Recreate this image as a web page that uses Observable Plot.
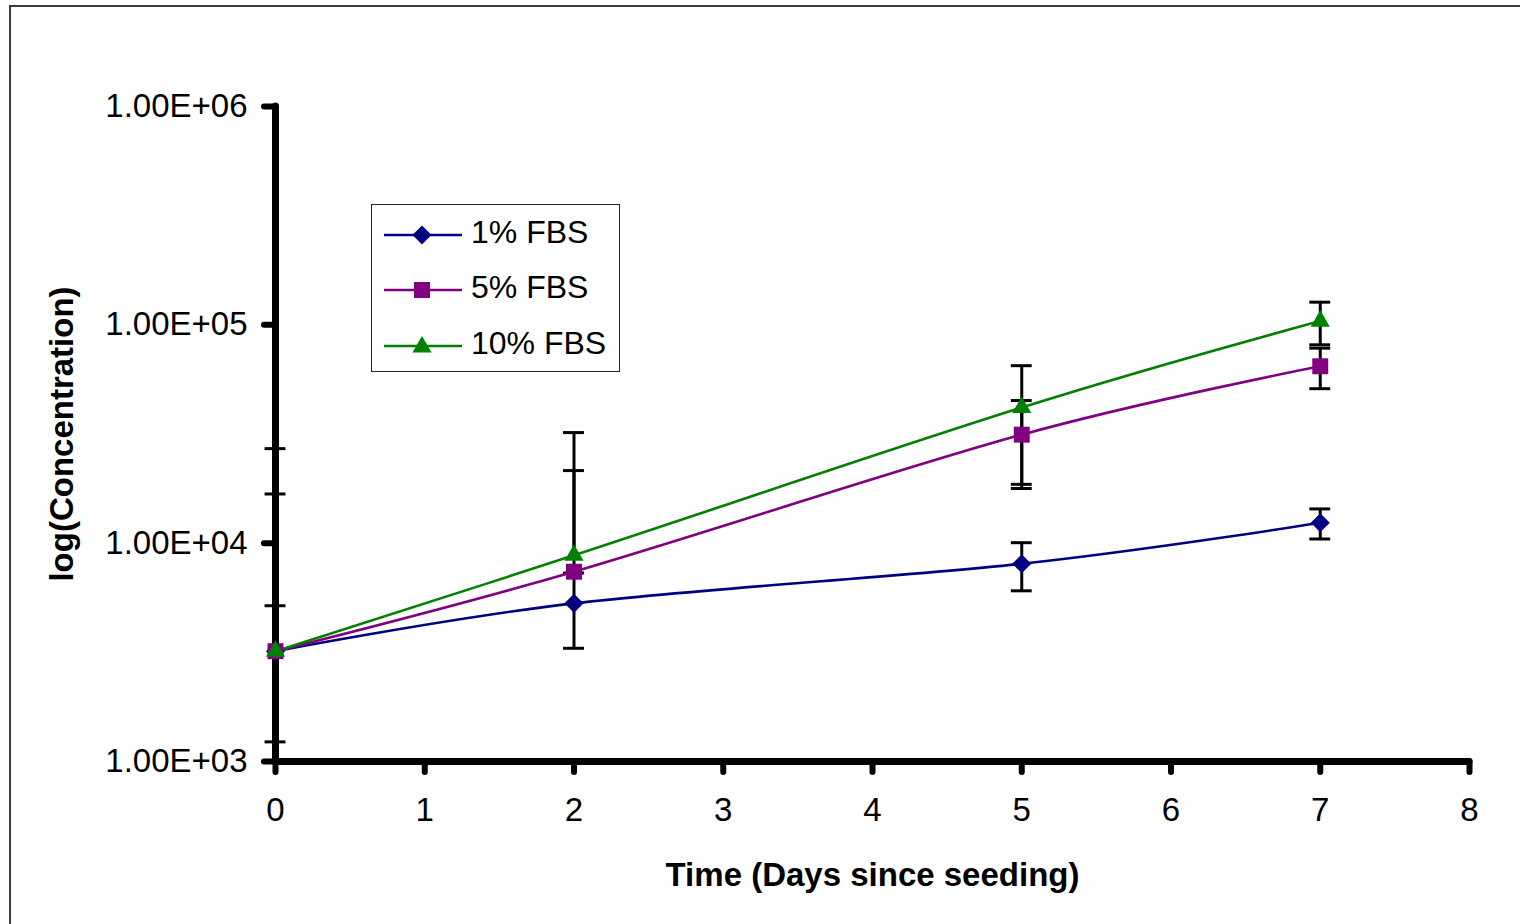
<!DOCTYPE html>
<html>
<head>
<meta charset="utf-8">
<script src="https://cdn.jsdelivr.net/npm/d3@7"></script>
<script src="https://cdn.jsdelivr.net/npm/@observablehq/plot@0.6"></script>
<style>
  html, body { margin: 0; padding: 0; background: #fff; overflow: hidden; }
  #wrap { position: relative; width: 1520px; height: 924px; }
  #border { position: absolute; left: 9px; top: 5px; width: 1600px; height: 1000px;
            border: 2px solid #3a3a3a; pointer-events: none; }
  #legend { position: absolute; left: 371px; top: 204px; width: 247px; height: 166px;
            border: 1.5px solid #222; background: #fff; }
  #legend svg { display: block; }
</style>
</head>
<body>
<div id="wrap"></div>
<script>
// ---- data ----
const days = [0, 2, 5, 7];
const seriesNames = ["1% FBS", "5% FBS", "10% FBS"];
const mean1 = [3200, 5300, 8050, 12400];
const sd1 = [1970, 2000, 2000, 1950];
const mean5 = [3200, 7400, 31400, 64600];
const sd5 = [13600, 14100, 13600, 13600];
const mean10 = [3200, 8800, 41800, 104000];
const sd10 = [23900, 23300, 23200, 23000];
const xTicks = [0, 1, 2, 3, 4, 5, 6, 7, 8];
const yTicks = [1e3, 1e4, 1e5, 1e6];

const colors = ["#000080", "#800080", "#008000"];
const symbols = ["diamond2", "square", "triangle"];
const radii = [8.6, 9.0, 7.1];

const means = [mean1, mean5, mean10];
const sds = [sd1, sd5, sd10];
const rows = [];
seriesNames.forEach((s, i) => days.forEach((d, j) => {
  const m = means[i][j], sd = sds[i][j];
  rows.push({series: s, day: d, mean: m, lo: m - sd, hi: m + sd});
}));

const fmt = d => {
  const e = Math.round(Math.log10(d));
  const m = d / Math.pow(10, e);
  return m.toFixed(2) + "E+" + String(e).padStart(2, "0");
};

const FONT = "'Liberation Sans', Arial, sans-serif";
const capHalf = 0.07;
const marks = [
  Plot.axisX({ticks: xTicks, tickSize: 11, tickFormat: () => "", strokeWidth: 6, strokeLinecap: "round", label: null}),
  Plot.axisY({ticks: yTicks, tickSize: 11, tickFormat: () => "", strokeWidth: 6, strokeLinecap: "round", label: null}),
  // tick labels
  Plot.text(xTicks, {x: d => d, frameAnchor: "bottom", lineAnchor: "middle", dy: 49, text: d => String(d), fontSize: 33, fill: "#000"}),
  Plot.text(yTicks, {y: d => d, frameAnchor: "left", lineAnchor: "middle", dx: -28, textAnchor: "end", text: fmt, fontSize: 33, fill: "#000"}),
  // error bars
  Plot.ruleX(rows, {x: "day", y1: d => d.lo > 0 ? d.lo : d.mean, y2: "hi", stroke: "#000", strokeWidth: 3}),
  Plot.ruleY(rows, {y: "hi", x1: d => d.day - capHalf, x2: d => d.day + capHalf, stroke: "#000", strokeWidth: 3}),
  Plot.ruleY(rows.filter(d => d.lo > 0), {y: "lo", x1: d => d.day - capHalf, x2: d => d.day + capHalf, stroke: "#000", strokeWidth: 3}),
  // axis lines
  Plot.ruleX([0], {y1: 1e3, y2: 1e6, stroke: "#000", strokeWidth: 7, strokeLinecap: "round"}),
  Plot.ruleY([1e3], {x1: 0, x2: 8, stroke: "#000", strokeWidth: 7, strokeLinecap: "round"}),
];
seriesNames.forEach((s, i) => {
  const data = rows.filter(d => d.series === s);
  marks.push(Plot.line(data, {x: "day", y: "mean", stroke: colors[i], strokeWidth: 2.6, curve: "cardinal"}));
});
seriesNames.forEach((s, i) => {
  const data = rows.filter(d => d.series === s);
  marks.push(Plot.dot(data, {x: "day", y: "mean", symbol: () => symbols[i], fill: colors[i], stroke: "none", r: radii[i]}));
});
marks.push(Plot.text(["Time (Days since seeding)"], {frameAnchor: "bottom", dy: 124, fontSize: 33, fontWeight: "bold", fill: "#000"}));
marks.push(Plot.text(["log(Concentration)"], {frameAnchor: "left", textAnchor: "middle", dx: -213, rotate: -90, fontSize: 33, fontWeight: "bold", fill: "#000"}));

const chart = Plot.plot({
  width: 1520, height: 924,
  marginLeft: 275, marginRight: 51, marginTop: 106, marginBottom: 163,
  x: {domain: [0, 8]},
  y: {type: "log", domain: [1e3, 1e6]},
  style: {fontFamily: FONT, fontSize: "30px", color: "#000", background: "transparent"},
  marks
});
const wrap = document.getElementById("wrap");
wrap.appendChild(chart);

// legend
const legend = document.createElement("div");
legend.id = "legend";
const ns = "http://www.w3.org/2000/svg";
const lsvg = document.createElementNS(ns, "svg");
lsvg.setAttribute("width", 247); lsvg.setAttribute("height", 166);
const rowY = [30, 85, 141];
const symMap = {diamond2: d3.symbolDiamond2, square: d3.symbolSquare, triangle: d3.symbolTriangle};
seriesNames.forEach((s, i) => {
  const y = rowY[i];
  const line = document.createElementNS(ns, "line");
  line.setAttribute("x1", 12); line.setAttribute("x2", 90);
  line.setAttribute("y1", y); line.setAttribute("y2", y);
  line.setAttribute("stroke", colors[i]); line.setAttribute("stroke-width", 2.6);
  lsvg.appendChild(line);
  const p = document.createElementNS(ns, "path");
  p.setAttribute("d", d3.symbol(symMap[symbols[i]], Math.PI * radii[i] * radii[i])());
  p.setAttribute("transform", `translate(50,${y + (i === 2 ? 1 : 0)})`);
  p.setAttribute("fill", colors[i]);
  lsvg.appendChild(p);
  const t = document.createElementNS(ns, "text");
  t.setAttribute("x", 99); t.setAttribute("y", y - 3);
  t.setAttribute("dy", "0.35em");
  t.setAttribute("font-family", FONT);
  t.setAttribute("font-size", 32);
  t.textContent = s;
  lsvg.appendChild(t);
});
legend.appendChild(lsvg);
wrap.appendChild(legend);

const border = document.createElement("div");
border.id = "border";
wrap.appendChild(border);
</script>
</body>
</html>
